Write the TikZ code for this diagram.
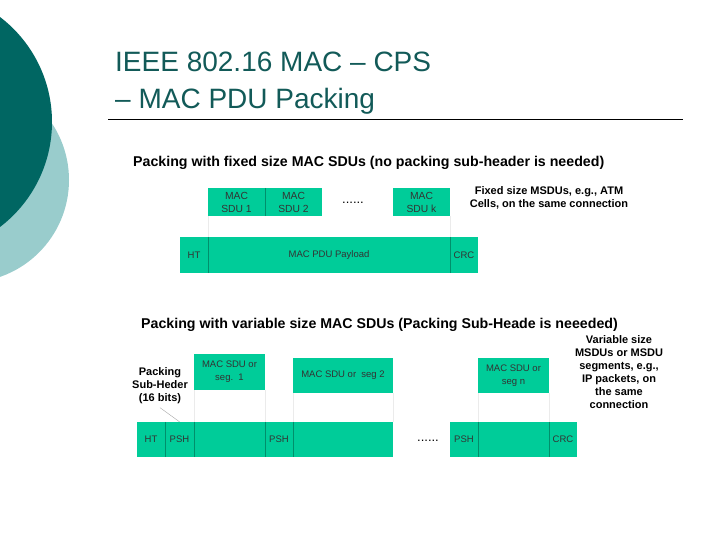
\documentclass[tikz,border=0pt]{standalone}
\usepackage{fontspec}
\setmainfont{Liberation Sans}
\definecolor{pdugreen}{RGB}{0,204,153}
\definecolor{deepteal}{RGB}{0,102,98}
\definecolor{paleteal}{RGB}{153,204,204}
\definecolor{titleteal}{RGB}{18,90,88}
\tikzset{field/.style={fill=pdugreen, inner sep=0pt, align=center,
   font=\fontsize{9.5}{13}\selectfont, text=black!80},
 sdubox/.style={field, minimum width=57, minimum height=28, font=\fontsize{10.3}{13}\selectfont},
 divider/.style={draw=pdugreen!70!black, line width=0.4pt},
 guide/.style={draw=black!8, line width=0.5pt},
 pointer/.style={draw=black!35, line width=0.4pt},
 heading/.style={anchor=base west, inner sep=0pt, font=\bfseries\fontsize{14.2}{16}\selectfont},
 note/.style={align=center, font=\bfseries\fontsize{11}{13}\selectfont},
 titletext/.style={anchor=base west, inner sep=0pt, text=titleteal, font=\fontsize{28}{30}\selectfont},
 dots/.style={font=\fontsize{13}{14}\selectfont},
 }

\begin{document}
\begin{tikzpicture}[x=1pt,y=-1pt]
        \useasboundingbox (0,0) rectangle (720,540);
        % slide decoration
        \begin{scope}
        \clip (0,0) rectangle (720,540);
        \fill[paleteal] (-33.5,180) circle (102.5);
        \fill[deepteal] (-80,122) circle (132);
        \end{scope}
        \node[titletext] (title1) at (115,72) {IEEE 802.16 MAC – CPS};
        \node[titletext] (title2) at (115,109) {– MAC PDU Packing};
        \draw[line width=1pt] (108,120) -- (683,120);

        % fixed size SDUs
        \node[heading] (head1) at (133,167) {Packing with fixed size MAC SDUs (no packing sub-header is needed)};
        \node[sdubox] (sdu1) at (236.5,202) {MAC\\SDU 1};
        \node[sdubox] (sdu2) at (293.5,202) {MAC\\SDU 2};
        \node[dots] (dots1) at (353,203) {......};
        \node[sdubox] (sduk) at (421.5,202) {MAC\\SDU k};
        \node[note] (fixnote) at (549,198) {Fixed size MSDUs, e.g., ATM\\Cells, on the same connection};
        \node[field, minimum width=28, minimum height=36] (ht1) at (194,255) {HT};
        \node[field, minimum width=242, minimum height=36] (pay) at (329,255) {MAC PDU Payload};
        \node[field, minimum width=28, minimum height=36] (crc1) at (464,255) {CRC};
        \draw[divider] (sdu1.north east) -- (sdu1.south east);
        \draw[divider] (ht1.north east) -- (ht1.south east);
        \draw[divider] (crc1.north west) -- (crc1.south west);
        \draw[guide] (sdu1.south west) -- (sdu1.south west |- pay.north);
        \draw[guide] (sduk.south east) -- (sduk.south east |- pay.north);

        % variable size SDUs
        \node[heading] (head2) at (141,328) {Packing with variable size MAC SDUs (Packing Sub-Heade is neeeded)};
        \node[field, minimum width=71, minimum height=36] (seg1) at (229.5,372) {MAC SDU or\\seg.\ \ 1};
        \node[field, minimum width=100, minimum height=35] (seg2) at (343,375.5) {MAC SDU or\ \ seg 2};
        \node[field, minimum width=71, minimum height=35] (segn) at (513.5,375.5) {MAC SDU or\\seg n};
        \node[note] (shlbl) at (160,386) {Packing\\Sub-Heder\\(16 bits)};
        \node[note] (varnote) at (619,372.5) {Variable size\\MSDUs or MSDU\\segments, e.g.,\\IP packets, on\\the same\\connection};
        \node[field, minimum width=28, minimum height=35] (ht2) at (151,439.5) {HT};
        \node[field, minimum width=29, minimum height=35] (psh1) at (179.5,439.5) {PSH};
        \node[field, minimum width=71, minimum height=35] (body1) at (229.5,439.5) {};
        \node[field, minimum width=28, minimum height=35] (psh2) at (279,439.5) {PSH};
        \node[field, minimum width=100, minimum height=35] (body2) at (343,439.5) {};
        \node[dots] (dots2) at (428,441) {......};
        \node[field, minimum width=28, minimum height=35] (psh3) at (464,439.5) {PSH};
        \node[field, minimum width=71, minimum height=35] (body3) at (513.5,439.5) {};
        \node[field, minimum width=28, minimum height=35] (crc2) at (563,439.5) {CRC};
        \foreach \n in {ht2,psh1,body1,psh2,psh3,body3}
          \draw[divider] (\n.north east) -- (\n.south east);
        \foreach \n in {seg1,seg2,segn} {
          \draw[guide] (\n.south west) -- (\n.south west |- body1.north);
          \draw[guide] (\n.south east) -- (\n.south east |- body1.north);
        }
        \draw[pointer] (shlbl.south) -- (psh1.north);
    \end{tikzpicture}
\end{document}
